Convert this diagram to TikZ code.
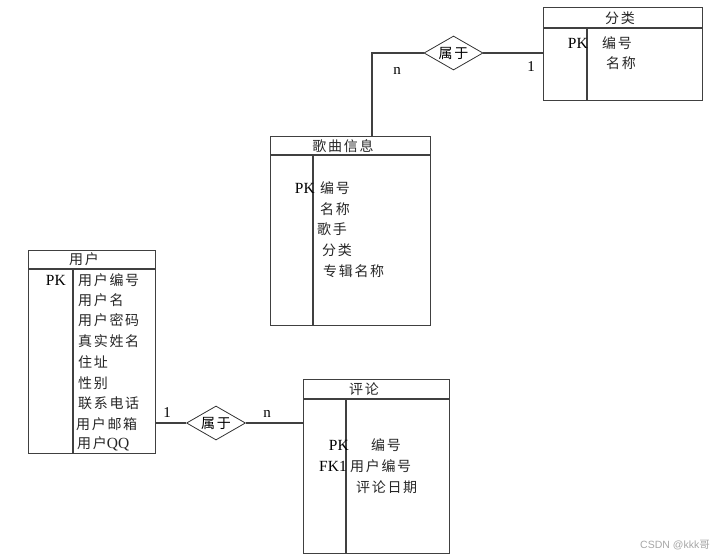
\documentclass[tikz,border=0pt]{standalone}
\usepackage{fontspec}
\setmainfont{Liberation Serif}
\newfontfamily\cjk[LetterSpace=12]{Noto Sans CJK SC}
\newfontfamily\wmfont{Liberation Sans}
\usetikzlibrary{shapes.geometric}
\tikzset{
  ent/.style={draw=black!75, line width=1.1pt, rectangle, inner sep=0pt, anchor=north west},
  sep/.style={draw=black!75, line width=1.1pt},
  conn/.style={draw=black!75, line width=1.1pt},
  rel/.style={draw=black!80, line width=0.8pt, diamond, aspect=1.7, inner sep=0pt,
    minimum width=59pt, minimum height=34pt, font=\cjk\fontsize{14}{14}\selectfont},
  attr/.style={inner sep=0pt, anchor=west, font=\cjk\fontsize{14}{14}\selectfont, text=black!85},
  key/.style={inner sep=0pt, anchor=east, font=\fontsize{15.5}{15.5}\selectfont},
  head/.style={inner sep=0pt, font=\cjk\fontsize{14}{14}\selectfont, text=black!85},
  card/.style={inner sep=0pt, font=\fontsize{15}{15}\selectfont}
}
\begin{document}
\begin{tikzpicture}[x=1pt, y=-1pt]
\useasboundingbox (0,0) rectangle (726,558);

% ---------- 分类 ----------
\node[ent, minimum width=159pt, minimum height=93pt] (fenlei) at (543,7) {};
\draw[sep] (543,28) -- (702,28);
\draw[sep] (587,28) -- (587,100);
\node[head] (fl_h) at (620,18) {分类};
\node[key] (fl_pk) at (588,43) {PK};
\node[attr] (fl_a1) at (602,43) {编号};
\node[attr] (fl_a2) at (606,63) {名称};

% ---------- 歌曲信息 ----------
\node[ent, minimum width=160pt, minimum height=189pt] (gequ) at (270,136) {};
\draw[sep] (270,155) -- (430,155);
\draw[sep] (313,155) -- (313,325);
\node[head] (gq_h) at (343,146) {歌曲信息};
\node[key] (gq_pk) at (315,188) {PK};
\node[attr] (gq_a1) at (320,188) {编号};
\node[attr] (gq_a2) at (320,209) {名称};
\node[attr] (gq_a3) at (317,229) {歌手};
\node[attr] (gq_a4) at (322,250) {分类};
\node[attr] (gq_a5) at (323,271) {专辑名称};

% ---------- 用户 ----------
\node[ent, minimum width=127pt, minimum height=203pt] (yonghu) at (28,250) {};
\draw[sep] (28,269) -- (155,269);
\draw[sep] (73,269) -- (73,453);
\node[head] (yh_h) at (84,259) {用户};
\node[key] (yh_pk) at (66,280) {PK};
\node[attr] (yh_a1) at (78,280) {用户编号};
\node[attr] (yh_a2) at (78,300) {用户名};
\node[attr] (yh_a3) at (78,320) {用户密码};
\node[attr] (yh_a4) at (78,341) {真实姓名};
\node[attr] (yh_a5) at (78,362) {住址};
\node[attr] (yh_a6) at (78,383) {性别};
\node[attr] (yh_a7) at (78,403) {联系电话};
\node[attr] (yh_a8) at (76,424) {用户邮箱};
\node[attr] (yh_a9) at (77,444) {用户{\rmfamily\fontsize{15.5}{15.5}\selectfont QQ}};

% ---------- 评论 ----------
\node[ent, minimum width=146pt, minimum height=174pt] (pinglun) at (303,379) {};
\draw[sep] (303,399) -- (449,399);
\draw[sep] (346,399) -- (346,553);
\node[head] (pl_h) at (364,389) {评论};
\node[key] (pl_pk) at (349,445) {PK};
\node[attr] (pl_a1) at (371,445) {编号};
\node[key] (pl_fk) at (347,466) {FK1};
\node[attr] (pl_a2) at (350,466) {用户编号};
\node[attr] (pl_a3) at (356,487) {评论日期};

% ---------- relationships ----------
\node[rel] (r1) at (453.5,53) {属于};
\node[rel] (r2) at (216,423) {属于};
\coordinate (c1) at (372,53);

\draw[conn] (fenlei.west |- r1.east) -- (r1.east);
\draw[conn] (r1.west) -- (c1) -- (c1 |- gequ.north);
\draw[conn] (yonghu.east |- r2.west) -- (r2.west);
\draw[conn] (r2.east) -- (pinglun.west |- r2.east);

\node[card] (n1) at (397,71) {n};
\node[card] (o1) at (531,67) {1};
\node[card] (o2) at (167,413) {1};
\node[card] (n2) at (267,414) {n};

% watermark
\node[inner sep=0pt, anchor=east, text=black!35, font=\wmfont\fontsize{10.5}{10.5}\selectfont] (wm) at (710,545) {CSDN @kkk{\cjk 哥}};
\end{tikzpicture}
\end{document}
